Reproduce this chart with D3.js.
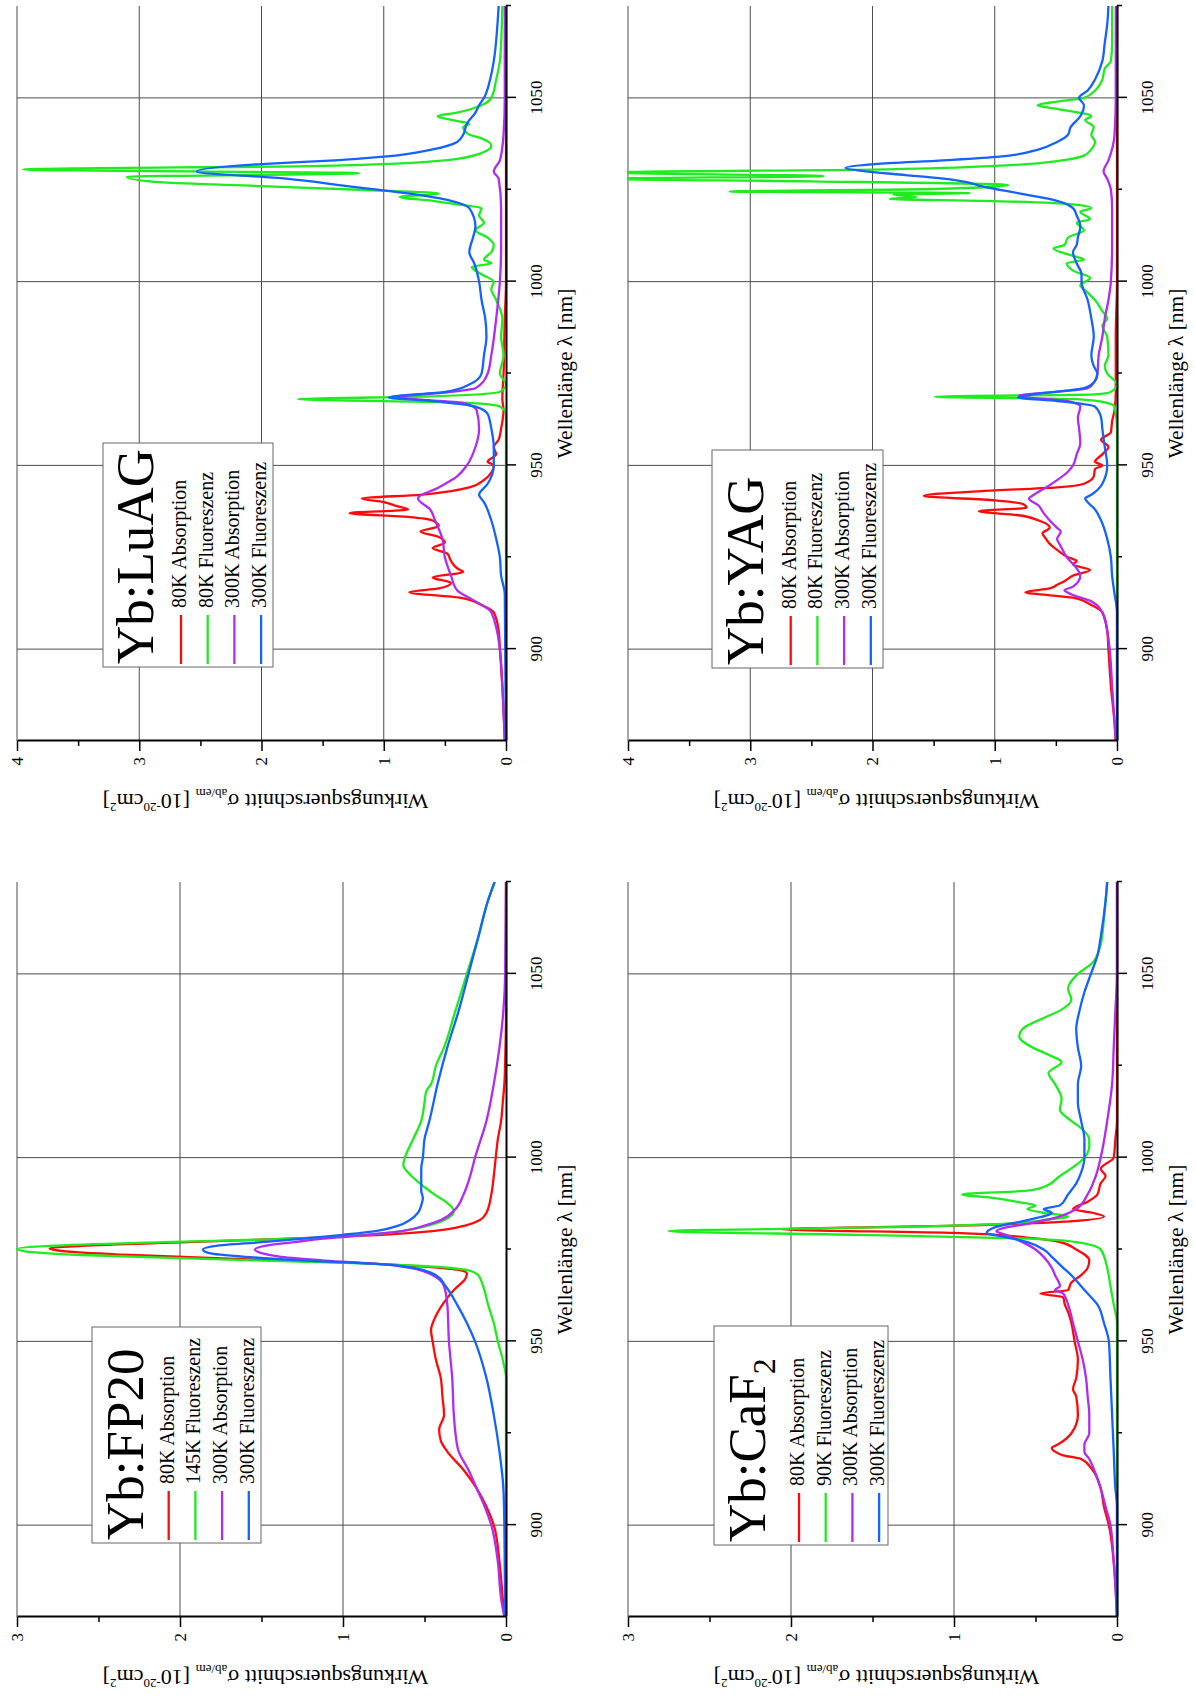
<!DOCTYPE html>
<html>
<head>
<meta charset="utf-8">
<script src="https://cdnjs.cloudflare.com/ajax/libs/d3/7.8.5/d3.min.js"></script>
<style>
  html, body { margin: 0; padding: 0; background: #fff; }
  svg text { font-family: "Liberation Serif", "Times New Roman", "DejaVu Serif", serif; fill: #000; }
</style>
</head>
<body>
<svg id="chart" width="1195" height="1706"></svg>
<script>
// Axis ticks
const wavelengthTicks = [900, 950, 1000, 1050]
const wavelengthMinor = [925, 975, 1025, 1075]
const seriesColors = ['#ff0a0a', '#1eec1e', '#b02cf2', '#1462ff']
const serif = '"Liberation Serif", "Times New Roman", "DejaVu Serif", serif'

// Yb:LuAG  [wavelength nm, sigma 1e-20 cm2]
const luagAbs80 = [[875,0.01],[890,0.03],[900,0.05],[905,0.06],[910,0.1],[912,0.2],[914,0.38],[915.5,0.79],[916.5,0.55],[918,0.45],[919.5,0.6],[921,0.35],[922,0.4],[924,0.45],[926,0.48],[927.5,0.6],[929,0.5],[930.5,0.55],[932,0.7],[933.5,0.55],[935,0.6],[936,0.8],[937,1.28],[938,0.8],[939,0.9],[940,1.0],[941,1.18],[942,0.7],[943,0.45],[944,0.3],[946,0.18],[948,0.12],[950,0.10],[951,0.15],[953,0.08],[955,0.10],[957,0.06],[960,0.04],[965,0.02],[968,0.03],[975,0.02],[990,0.01],[1000,0],[1075,0]]
const luagFl80 = [[875,0],[964,0],[966,0.05],[967,0.3],[968,1.70],[968.8,0.6],[970,0.05],[972,0],[975,0.05],[980,0.02],[985,0.04],[990,0.03],[995,0.08],[998,0.12],[1000,0.10],[1002,0.20],[1004,0.28],[1005,0.12],[1006,0.18],[1008,0.12],[1010,0.10],[1012,0.15],[1014,0.25],[1016,0.18],[1018,0.22],[1020,0.20],[1021,0.40],[1022,0.60],[1023,0.87],[1024,0.55],[1025,1.2],[1026,2.0],[1027,2.8],[1028.5,3.1],[1029.5,1.2],[1030.5,3.95],[1031.5,1.5],[1033,0.5],[1035,0.2],[1037,0.12],[1039,0.2],[1040,0.3],[1042,0.35],[1043,0.3],[1044,0.45],[1045,0.56],[1046,0.4],[1048,0.2],[1050,0.12],[1055,0.08],[1060,0.05],[1065,0.04],[1075,0.03]]
const luagAbs300 = [[875,0.01],[890,0.03],[900,0.05],[910,0.12],[913,0.25],[916,0.4],[920,0.45],[925,0.5],[930,0.52],[935,0.58],[938,0.62],[941,0.72],[944,0.55],[947,0.4],[950,0.32],[955,0.25],[960,0.22],[965,0.24],[967,0.35],[968.5,0.88],[970,0.45],[971,0.25],[975,0.15],[980,0.12],[990,0.08],[1000,0.05],[1010,0.04],[1020,0.04],[1028,0.06],[1030,0.10],[1033,0.05],[1040,0.02],[1050,0.01],[1075,0.01]]
const luagFl300 = [[875,0],[915,0.01],[920,0.04],[925,0.05],[930,0.08],[935,0.12],[940,0.18],[942,0.22],[945,0.15],[950,0.10],[955,0.10],[960,0.12],[964,0.15],[966,0.25],[967.5,0.6],[968.5,0.96],[970,0.5],[972,0.3],[975,0.2],[980,0.18],[985,0.16],[990,0.17],[995,0.2],[1000,0.22],[1005,0.26],[1008,0.3],[1012,0.27],[1015,0.25],[1020,0.3],[1022,0.45],[1024,0.8],[1026,1.3],[1028,1.8],[1030,2.53],[1032,2.0],[1033,1.4],[1034,1.0],[1036,0.6],[1038,0.4],[1040,0.35],[1043,0.32],[1046,0.25],[1048,0.22],[1050,0.18],[1055,0.13],[1060,0.10],[1070,0.07],[1075,0.06]]

// Yb:YAG
const yagAbs80 = [[875,0.01],[880,0.02],[890,0.05],[900,0.07],[905,0.08],[910,0.12],[912,0.21],[914,0.36],[915.5,0.75],[916.5,0.55],[917.5,0.49],[918.5,0.43],[920,0.36],[921.5,0.22],[923,0.36],[924,0.33],[925,0.40],[927,0.49],[929,0.56],[930,0.58],[931.5,0.61],[933,0.55],[935,0.64],[936.5,0.82],[937.5,1.13],[938.5,0.74],[939.5,0.77],[940.5,1.0],[941.7,1.58],[943,1.11],[944,0.49],[945,0.27],[947,0.19],[949,0.18],[950,0.12],[951,0.18],[953,0.12],[955,0.07],[957,0.13],[959,0.05],[962,0.04],[965,0.02],[970,0.01],[985,0.01],[1000,0],[1075,0]]
const yagFl80 = [[875,0],[960,0],[966,0.02],[967,0.08],[968,0.33],[968.7,1.49],[969.3,0.18],[970,0.05],[972,0],[975,0.08],[977,0.10],[980,0.07],[985,0.08],[988,0.12],[990,0.08],[992,0.12],[995,0.18],[997,0.24],[999,0.30],[1001,0.22],[1003,0.36],[1005,0.41],[1006,0.27],[1007,0.36],[1009,0.52],[1010,0.43],[1012,0.40],[1014,0.27],[1016,0.33],[1017,0.22],[1019,0.30],[1020,0.21],[1021,0.36],[1022,1.1],[1022.5,1.86],[1023,1.64],[1023.7,1.83],[1024.1,1.2],[1024.5,3.17],[1025.2,1.5],[1026.3,0.89],[1027.3,2.5],[1028,4.2],[1028.7,2.4],[1029.7,4.2],[1030.5,2.0],[1031.5,1.0],[1033,0.45],[1034.3,0.27],[1036,0.21],[1038,0.18],[1040,0.21],[1042,0.19],[1044,0.26],[1045,0.21],[1047,0.49],[1048,0.65],[1049,0.49],[1050,0.27],[1052,0.18],[1055,0.12],[1058,0.10],[1060,0.05],[1065,0.04],[1075,0.04]]
const yagAbs300 = [[875,0.01],[890,0.04],[900,0.06],[905,0.08],[910,0.12],[913,0.21],[915,0.38],[916,0.43],[917,0.36],[920,0.30],[922,0.33],[925,0.41],[928,0.46],[930,0.49],[932,0.46],[933,0.49],[935,0.55],[937,0.60],[939,0.64],[941,0.72],[942,0.68],[944,0.58],[946,0.49],[948,0.41],[950,0.36],[953,0.33],[956,0.30],[960,0.31],[963,0.32],[966,0.30],[967.5,0.40],[968.5,0.74],[969,0.80],[970,0.49],[971,0.24],[973,0.18],[975,0.16],[980,0.15],[985,0.12],[990,0.10],[995,0.07],[1000,0.05],[1010,0.04],[1020,0.04],[1025,0.05],[1028,0.08],[1030,0.11],[1033,0.07],[1040,0.02],[1050,0.01],[1075,0.01]]
const yagFl300 = [[875,0],[910,0],[915,0.02],[920,0.04],[925,0.05],[930,0.08],[935,0.13],[938,0.18],[940,0.24],[941,0.26],[942,0.21],[945,0.12],[950,0.08],[955,0.10],[960,0.12],[963,0.13],[966,0.18],[967.5,0.49],[968.5,0.81],[969.5,0.64],[971,0.27],[973,0.18],[975,0.16],[977,0.19],[980,0.21],[985,0.19],[990,0.21],[995,0.24],[1000,0.29],[1002,0.29],[1005,0.33],[1008,0.36],[1010,0.33],[1012,0.32],[1015,0.30],[1018,0.33],[1020,0.36],[1022,0.49],[1024,0.80],[1026,1.11],[1027,1.22],[1028,1.42],[1029,1.73],[1030,2.05],[1031,2.22],[1032,1.98],[1033,1.42],[1034,0.96],[1036,0.64],[1038,0.49],[1040,0.40],[1042,0.38],[1045,0.30],[1048,0.27],[1050,0.31],[1052,0.24],[1055,0.18],[1060,0.12],[1065,0.10],[1070,0.08],[1075,0.07]]

// Yb:FP20
const fp20Abs80 = [[875,0.01],[880,0.02],[890,0.04],[900,0.075],[905,0.12],[910,0.18],[915,0.26],[920,0.36],[923,0.40],[926,0.41],[930,0.38],[935,0.39],[940,0.40],[945,0.43],[950,0.45],[953,0.46],[956,0.44],[960,0.39],[964,0.32],[967,0.25],[968.5,0.24],[969.5,0.30],[970.5,0.55],[971.5,1.0],[972.5,1.7],[973.5,2.3],[974.5,2.7],[975.3,2.80],[976,2.6],[977,1.95],[978,1.3],[979,0.76],[980,0.45],[981.5,0.25],[983,0.16],[985,0.12],[990,0.09],[995,0.075],[1000,0.063],[1005,0.05],[1010,0.03],[1015,0.02],[1020,0.01],[1030,0.003],[1040,0],[1075,0]]
const fp20Fl145 = [[875,0],[940,0],[945,0.02],[950,0.05],[955,0.075],[960,0.11],[965,0.14],[968,0.17],[969.5,0.25],[970.5,0.5],[971.5,1.1],[972.5,1.9],[973.5,2.6],[974.5,2.95],[975.2,3.0],[976,2.8],[977,2.1],[978,1.25],[979,0.85],[980,0.64],[981.5,0.48],[983,0.38],[985.5,0.32],[988,0.37],[990,0.44],[992,0.50],[995,0.58],[998,0.63],[1000,0.62],[1005,0.57],[1010,0.52],[1015,0.50],[1018,0.49],[1020,0.46],[1025,0.43],[1030,0.38],[1040,0.31],[1050,0.24],[1060,0.17],[1070,0.11],[1075,0.07]]
const fp20Abs300 = [[875,0.01],[880,0.03],[890,0.05],[900,0.09],[905,0.13],[910,0.18],[915,0.23],[920,0.29],[925,0.31],[930,0.32],[940,0.33],[950,0.35],[960,0.36],[965,0.38],[968,0.45],[970,0.59],[971,0.76],[972,1.11],[973,1.38],[974,1.5],[975,1.54],[976,1.48],[977,1.3],[978,1.1],[979,0.85],[980,0.64],[981.5,0.5],[983,0.40],[986,0.31],[990,0.26],[995,0.22],[1000,0.19],[1010,0.12],[1020,0.075],[1030,0.04],[1040,0.016],[1050,0.005],[1075,0]]
const fp20Fl300 = [[875,0.005],[890,0.008],[900,0.01],[910,0.016],[920,0.04],[930,0.075],[940,0.12],[950,0.19],[955,0.24],[960,0.30],[965,0.37],[968,0.43],[970,0.57],[971,0.76],[972,1.23],[973,1.6],[974,1.82],[975,1.86],[976,1.78],[977,1.5],[978,1.23],[979,1.0],[980,0.80],[981.5,0.66],[983,0.59],[985,0.54],[987,0.52],[989,0.51],[991,0.52],[994,0.52],[997,0.52],[1000,0.51],[1005,0.50],[1010,0.47],[1020,0.42],[1030,0.36],[1040,0.29],[1050,0.23],[1060,0.17],[1070,0.11],[1075,0.07]]

// Yb:CaF2
const caf2Abs80 = [[875,0],[890,0.02],[900,0.05],[905,0.08],[910,0.10],[915,0.15],[918,0.22],[919,0.33],[920,0.38],[921,0.40],[922,0.36],[925,0.28],[930,0.24],[935,0.25],[937,0.27],[940,0.25],[945,0.24],[950,0.26],[955,0.28],[958,0.30],[960,0.32],[962,0.33],[963,0.47],[964,0.30],[966,0.28],[968,0.22],[970,0.18],[972,0.17],[975,0.25],[977,0.35],[978,0.5],[979.5,1.0],[980.5,2.07],[981.5,1.0],[982.5,0.35],[984,0.08],[985,0.15],[986,0.27],[988,0.18],[990,0.12],[993,0.10],[995,0.07],[997,0.10],[1000,0.02],[1005,0.01],[1010,0],[1075,0]]
const caf2Fl90 = [[875,0],[955,0],[960,0.02],[965,0.04],[970,0.06],[975,0.10],[977,0.25],[978,0.6],[979,1.6],[980,2.75],[981,1.5],[982,0.7],[983,0.45],[984,0.30],[985,0.45],[986,0.55],[987,0.50],[988,0.62],[989,0.75],[990,0.95],[991,0.55],[992,0.45],[995,0.35],[998,0.25],[1000,0.20],[1003,0.17],[1005,0.17],[1008,0.22],[1010,0.28],[1013,0.35],[1016,0.34],[1020,0.38],[1023,0.42],[1026,0.34],[1028,0.42],[1030,0.52],[1033,0.6],[1035,0.58],[1038,0.45],[1040,0.35],[1043,0.28],[1046,0.30],[1050,0.24],[1053,0.15],[1058,0.10],[1065,0.08],[1075,0.06]]
const caf2Abs300 = [[875,0],[890,0.02],[900,0.04],[905,0.07],[910,0.10],[915,0.14],[918,0.17],[920,0.20],[922,0.20],[925,0.17],[930,0.17],[935,0.18],[940,0.19],[945,0.21],[950,0.24],[955,0.27],[960,0.30],[963,0.33],[964,0.38],[965,0.35],[968,0.38],[970,0.40],[973,0.45],[975,0.50],[977,0.58],[979,0.68],[980,0.74],[981,0.68],[982,0.55],[984,0.35],[986,0.25],[990,0.18],[995,0.13],[1000,0.10],[1010,0.06],[1020,0.03],[1030,0.02],[1040,0.01],[1050,0],[1075,0]]
const caf2Fl300 = [[875,0],[905,0],[910,0.01],[920,0.02],[930,0.03],[940,0.04],[950,0.05],[955,0.08],[960,0.12],[963,0.18],[965,0.22],[968,0.28],[970,0.33],[973,0.40],[975,0.45],[977,0.55],[978.5,0.70],[979.5,0.80],[981,0.75],[983,0.55],[985,0.40],[986,0.45],[987,0.35],[990,0.30],[993,0.25],[996,0.22],[1000,0.20],[1005,0.20],[1010,0.22],[1015,0.24],[1020,0.24],[1025,0.22],[1030,0.24],[1035,0.25],[1040,0.23],[1045,0.20],[1050,0.16],[1055,0.12],[1060,0.10],[1070,0.07],[1075,0.06]]

const labelsStd = ['80K Absorption', '80K Fluoreszenz', '300K Absorption', '300K Fluoreszenz']

// panels are drawn in landscape coords, then turned by -90deg like the printed page
const panels = [
  { title: 'Yb:LuAG', sub: '', ymax: 4, tx: 17, ty: 741, labels: labelsStd,
    series: [luagAbs80, luagFl80, luagAbs300, luagFl300],
    box: { x: 74, y: 86, w: 224, h: 170, titleY: 136, row0: 164 } },
  { title: 'Yb:YAG', sub: '', ymax: 4, tx: 628, ty: 741, labels: labelsStd,
    series: [yagAbs80, yagFl80, yagAbs300, yagFl300],
    box: { x: 73, y: 84, w: 218, h: 171, titleY: 135, row0: 162.7 } },
  { title: 'Yb:FP20', sub: '', ymax: 3, tx: 17, ty: 1617,
    labels: ['80K Absorption', '145K Fluoreszenz', '300K Absorption', '300K Fluoreszenz'],
    series: [fp20Abs80, fp20Fl145, fp20Abs300, fp20Fl300],
    box: { x: 74, y: 75, w: 216, h: 169, titleY: 126, row0: 151.7 } },
  { title: 'Yb:CaF', sub: '2', ymax: 3, tx: 628, ty: 1617,
    labels: ['80K Absorption', '90K Fluoreszenz', '300K Absorption', '300K Fluoreszenz'],
    series: [caf2Abs80, caf2Fl90, caf2Abs300, caf2Fl300],
    box: { x: 72, y: 86, w: 219, h: 174, titleY: 137, row0: 171 } }
]

const W = 735, H = 489
const svg = d3.select('#chart')
svg.append('rect').attr('width', 1195).attr('height', 1706).attr('fill', '#fff')

const x = d3.scaleLinear().domain([875, 1075]).range([0, W])

panels.forEach((p, k) => {
  const y = d3.scaleLinear().domain([0, p.ymax]).range([H, 0])
  const g = svg.append('g').attr('transform', `translate(${p.tx},${p.ty}) rotate(-90)`)
    .attr('font-family', serif)

  // grid
  g.append('g').selectAll('line').data(wavelengthTicks).join('line')
    .attr('x1', d => x(d)).attr('x2', d => x(d)).attr('y1', 0).attr('y2', H)
    .attr('stroke', '#4d4d4d').attr('stroke-width', 1)
  g.append('g').selectAll('line').data(d3.range(1, p.ymax + 1)).join('line')
    .attr('x1', 0).attr('x2', W).attr('y1', d => y(d)).attr('y2', d => y(d))
    .attr('stroke', '#4d4d4d').attr('stroke-width', 1)

  // curves
  const clipId = `clip-${k}`
  g.append('clipPath').attr('id', clipId)
    .append('rect').attr('x', 0).attr('y', -1).attr('width', W).attr('height', H + 3)
  const line = d3.line().x(d => x(d[0])).y(d => y(d[1])).curve(d3.curveMonotoneX)
  g.append('g').attr('clip-path', `url(#${clipId})`)
    .selectAll('path').data(p.series).join('path')
    .attr('d', line)
    .attr('fill', 'none')
    .attr('stroke', (d, i) => seriesColors[i])
    .attr('stroke-width', 2.3)
    .attr('stroke-linejoin', 'round')

  // wavelength axis
  const gx = g.append('g').attr('transform', `translate(0,${H})`)
    .call(d3.axisBottom(x).tickValues(wavelengthTicks).tickSize(10).tickSizeOuter(0)
      .tickPadding(14).tickFormat(d3.format('d')))
  gx.append('g').call(d3.axisBottom(x).tickValues(wavelengthMinor).tickSize(5).tickFormat(''))
    .select('.domain').remove()
  gx.select('.domain').attr('stroke-width', 2)
  gx.selectAll('.tick line').attr('stroke-width', 1.5)
  gx.attr('font-family', serif).attr('font-size', 17)
  gx.selectAll('text').attr('font-family', serif)

  // cross section axis
  const gy = g.append('g')
    .call(d3.axisLeft(y).tickValues(d3.range(0, p.ymax + 1)).tickSize(10).tickSizeOuter(0)
      .tickPadding(6).tickFormat(d3.format('d')))
  gy.append('g').call(d3.axisLeft(y).tickValues(d3.range(0.5, p.ymax, 1)).tickSize(5).tickFormat(''))
    .select('.domain').remove()
  gy.select('.domain').attr('stroke-width', 2)
  gy.selectAll('.tick line').attr('stroke-width', 1.5)
  gy.attr('font-family', serif).attr('font-size', 17)
  gy.selectAll('text').attr('font-family', serif)

  // axis titles
  g.append('text').attr('x', W / 2).attr('y', H + 66)
    .attr('text-anchor', 'middle').attr('font-size', 21.5).attr('font-family', serif)
    .text('Wellenlänge λ [nm]')

  const yt = g.append('text')
    .attr('transform', `translate(-53,${H / 2 + 4}) rotate(-90)`)
    .attr('text-anchor', 'middle').attr('font-size', 22).attr('font-family', serif)
  yt.append('tspan').text('Wirkungsquerschnitt σ')
  yt.append('tspan').attr('font-size', 13).attr('dy', 5).text('ab/em')
  yt.append('tspan').attr('dy', -5).text(' [10')
  yt.append('tspan').attr('font-size', 13).attr('dy', -9).text('-20')
  yt.append('tspan').attr('dy', 9).text('cm')
  yt.append('tspan').attr('font-size', 13).attr('dy', -9).text('2')
  yt.append('tspan').attr('dy', 9).text(']')

  // legend
  const b = p.box
  const lg = g.append('g')
  lg.append('rect').attr('x', b.x).attr('y', b.y).attr('width', b.w).attr('height', b.h)
    .attr('fill', '#fff').attr('stroke', '#666').attr('stroke-width', 1)
  const tt = lg.append('text').attr('x', b.x + 3).attr('y', b.titleY).attr('font-size', 53)
  tt.append('tspan').text(p.title)
  if (p.sub) tt.append('tspan').attr('font-size', 32).attr('dy', 10).text(p.sub)

  const rows = lg.selectAll('g.row').data(p.labels).join('g').attr('class', 'row')
    .attr('transform', (d, i) => `translate(0,${b.row0 + i * 26.7})`)
  rows.append('line').attr('x1', b.x + 3).attr('x2', b.x + 52)
    .attr('stroke', (d, i) => seriesColors[i]).attr('stroke-width', 2.3)
  rows.append('text').attr('x', b.x + 59).attr('y', 5).attr('font-size', 20).text(d => d)
})
</script>
</body>
</html>
